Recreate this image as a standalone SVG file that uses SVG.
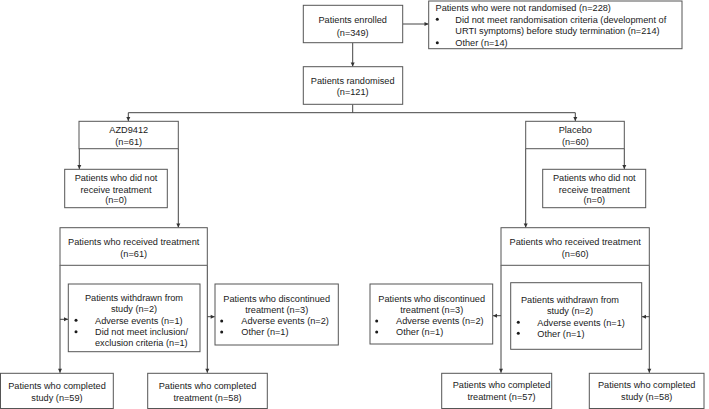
<svg xmlns="http://www.w3.org/2000/svg" width="709" height="409" viewBox="0 0 709 409">
<defs>
<marker id="ah" markerUnits="userSpaceOnUse" markerWidth="6" markerHeight="6" viewBox="0 0 6 6" refX="5" refY="3" orient="auto">
<path d="M1,1 L5,3 L1,5 Z" fill="#333"/>
</marker>
<style>
.box{fill:#fff;stroke:#555;stroke-width:1}
.t{font-family:"Liberation Sans",Arial,sans-serif;font-size:9.2px;fill:#1a1a1a}
.c{text-anchor:middle}
.b{fill:#1a1a1a}
.ln{fill:none;stroke:#444;stroke-width:1}
.ar{fill:none;stroke:#444;stroke-width:1;marker-end:url(#ah)}
</style>
</defs>
<rect width="709" height="409" fill="#fff"/>

<g id="connectors">
<path class="ar" d="M403,24 H428.5"/>
<path class="ar" d="M352.7,43 V66.5"/>
<path class="ln" d="M352.7,104.3 V112.7 M128.3,112.7 H575.3"/>
<path class="ar" d="M128.3,112.7 V121"/>
<path class="ar" d="M575.3,112.7 V121"/>
<path class="ar" d="M79.3,148.7 V169"/>
<path class="ar" d="M178.3,148.7 V227.5"/>
<path class="ar" d="M624.3,148.7 V169"/>
<path class="ar" d="M525.7,148.7 V227.5"/>
<path class="ar" d="M60,265.3 V372.8"/>
<path class="ar" d="M207.3,265.3 V372.8"/>
<path class="ar" d="M60,319.3 H68"/>
<path class="ar" d="M207.3,316.7 H214.7"/>
<path class="ar" d="M501,265.3 V372.8"/>
<path class="ar" d="M649.3,265.3 V372.8"/>
<path class="ar" d="M501,315.7 H493"/>
<path class="ar" d="M649.3,316.7 H642"/>
</g>

<g id="enrolled">
<rect class="box" x="303.3" y="5.3" width="99.4" height="37.4"/>
<text class="t c" x="352.7" y="22.6">Patients enrolled</text>
<text class="t c" x="352.7" y="35.6">(n=349)</text>
</g>

<g id="not-randomised">
<rect class="box" x="428.7" y="1" width="253.3" height="47.7"/>
<text class="t" x="435.5" y="10.6">Patients who were not randomised (n=228)</text>
<circle class="b" cx="437.3" cy="19.3" r="1.5"/>
<text class="t" x="455.3" y="22.6">Did not meet randomisation criteria (development of</text>
<text class="t" x="455.3" y="34">URTI symptoms) before study termination (n=214)</text>
<circle class="b" cx="437.3" cy="42.7" r="1.5"/>
<text class="t" x="455.3" y="46">Other (n=14)</text>
</g>

<g id="randomised">
<rect class="box" x="303.3" y="66.7" width="99.4" height="37.6"/>
<text class="t c" x="352.7" y="84">Patients randomised</text>
<text class="t c" x="352.7" y="95.3">(n=121)</text>
</g>

<g id="azd">
<rect class="box" x="79" y="121.3" width="99.3" height="27.4"/>
<text class="t c" x="128.7" y="133.3">AZD9412</text>
<text class="t c" x="128.7" y="144.6">(n=61)</text>
</g>

<g id="placebo">
<rect class="box" x="525.7" y="121.3" width="98.6" height="27.4"/>
<text class="t c" x="575.3" y="133.3">Placebo</text>
<text class="t c" x="575.3" y="144.6">(n=60)</text>
</g>

<g id="azd-not-received">
<rect class="box" x="64.7" y="169.3" width="102.6" height="38.4"/>
<text class="t c" x="116" y="181.3">Patients who did not</text>
<text class="t c" x="116" y="192.6">receive treatment</text>
<text class="t c" x="116" y="203.3">(n=0)</text>
</g>

<g id="placebo-not-received">
<rect class="box" x="542.7" y="169.3" width="103" height="38.4"/>
<text class="t c" x="594.3" y="181.3">Patients who did not</text>
<text class="t c" x="594.3" y="192.6">receive treatment</text>
<text class="t c" x="594.3" y="203.3">(n=0)</text>
</g>

<g id="azd-received">
<rect class="box" x="60" y="227.7" width="147.3" height="37.6"/>
<text class="t c" x="133.7" y="245">Patients who received treatment</text>
<text class="t c" x="133.7" y="256.6">(n=61)</text>
</g>

<g id="placebo-received">
<rect class="box" x="501" y="227.7" width="148.3" height="37.6"/>
<text class="t c" x="575.2" y="245">Patients who received treatment</text>
<text class="t c" x="575.2" y="256.6">(n=60)</text>
</g>

<g id="azd-withdrawn">
<rect class="box" x="68.3" y="284" width="131.7" height="67.7"/>
<text class="t c" x="134" y="300.6">Patients withdrawn from</text>
<text class="t c" x="134" y="312.3">study (n=2)</text>
<circle class="b" cx="76" cy="320.3" r="1.5"/>
<text class="t" x="95" y="323.6">Adverse events (n=1)</text>
<circle class="b" cx="76" cy="331.7" r="1.5"/>
<text class="t" x="95" y="335">Did not meet inclusion/</text>
<text class="t" x="95" y="345.6">exclusion criteria (n=1)</text>
</g>

<g id="azd-discontinued">
<rect class="box" x="215" y="284" width="123.3" height="61"/>
<text class="t c" x="276.7" y="301.6">Patients who discontinued</text>
<text class="t c" x="276.7" y="312.6">treatment (n=3)</text>
<circle class="b" cx="221.7" cy="321" r="1.5"/>
<text class="t" x="241.3" y="324.3">Adverse events (n=2)</text>
<circle class="b" cx="221.7" cy="332" r="1.5"/>
<text class="t" x="241.3" y="335.3">Other (n=1)</text>
</g>

<g id="placebo-discontinued">
<rect class="box" x="370" y="284" width="122.7" height="60"/>
<text class="t c" x="431.7" y="301.6">Patients who discontinued</text>
<text class="t c" x="431.7" y="312.6">treatment (n=3)</text>
<circle class="b" cx="376.7" cy="321" r="1.5"/>
<text class="t" x="396" y="324.3">Adverse events (n=2)</text>
<circle class="b" cx="376.7" cy="332" r="1.5"/>
<text class="t" x="396" y="335.3">Other (n=1)</text>
</g>

<g id="placebo-withdrawn">
<rect class="box" x="510.7" y="282.7" width="131" height="66.6"/>
<text class="t c" x="570" y="303.3">Patients withdrawn from</text>
<text class="t c" x="570" y="314.3">study (n=2)</text>
<circle class="b" cx="518.3" cy="322.3" r="1.5"/>
<text class="t" x="537.3" y="325.6">Adverse events (n=1)</text>
<circle class="b" cx="518.3" cy="333.3" r="1.5"/>
<text class="t" x="537.3" y="336.6">Other (n=1)</text>
</g>

<g id="azd-completed-study">
<rect class="box" x="0.5" y="373.3" width="112.8" height="35.2"/>
<text class="t c" x="57" y="389.3">Patients who completed</text>
<text class="t c" x="57" y="401">study (n=59)</text>
</g>

<g id="azd-completed-treatment">
<rect class="box" x="147.7" y="373.3" width="119.6" height="35.2"/>
<text class="t c" x="207.5" y="389.3">Patients who completed</text>
<text class="t c" x="207.5" y="401">treatment (n=58)</text>
</g>

<g id="placebo-completed-treatment">
<rect class="box" x="441.7" y="373.3" width="110" height="35.2"/>
<text class="t c" x="501.5" y="388.3">Patients who completed</text>
<text class="t c" x="501.5" y="400">treatment (n=57)</text>
</g>

<g id="placebo-completed-study">
<rect class="box" x="589.3" y="373.3" width="114.7" height="35.2"/>
<text class="t c" x="646.7" y="388.3">Patients who completed</text>
<text class="t c" x="646.7" y="400">study (n=58)</text>
</g>
</svg>
